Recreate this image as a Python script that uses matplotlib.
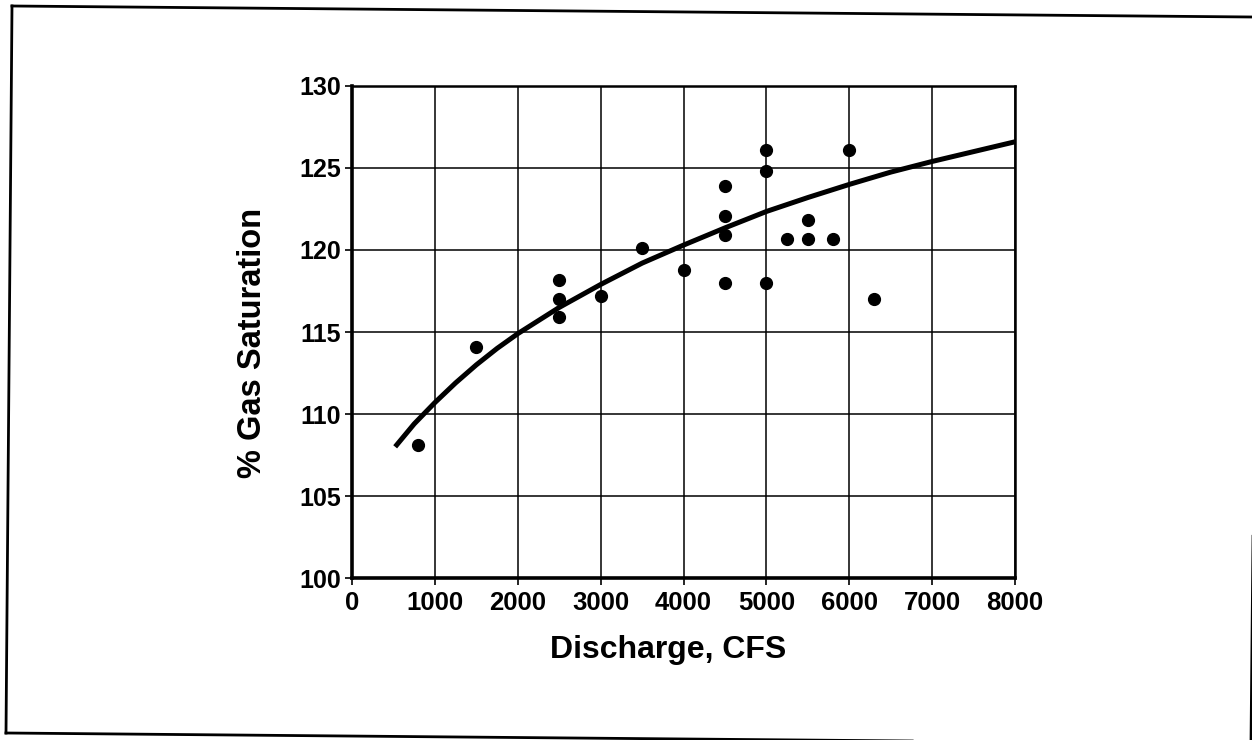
#% gas saturation vs discharge, scatter with fitted curve
import numpy as np
import matplotlib
matplotlib.use('Agg')
import matplotlib.pyplot as plt
from matplotlib.lines import Line2D

plt.rcParams['font.family'] = ['Liberation Sans', 'DejaVu Sans']
plt.rcParams['font.weight'] = 'bold'

# measured points
discharge = [800, 1500, 2500, 2500, 2500, 3000, 3500, 4000, 4500, 4500, 4500, 4500,
             5000, 5000, 5000, 5250, 5500, 5500, 5800, 6000, 6300]
gas_sat = [108.1, 114.1, 118.2, 117.0, 115.9, 117.2, 120.1, 118.8, 123.9, 122.1, 120.9, 118.0,
           126.1, 124.8, 118.0, 120.7, 121.8, 120.7, 120.7, 126.1, 117.0]

# fitted curve
curve_x = [520, 750, 1000, 1250, 1500, 1750, 2000, 2500, 3000, 3500, 4000, 4500,
           5000, 5500, 6000, 6500, 7000, 7500, 8000]
curve_y = [108.0, 109.4, 110.7, 111.9, 113.0, 114.0, 114.9, 116.5, 117.9, 119.2, 120.3, 121.35,
           122.35, 123.2, 124.0, 124.75, 125.4, 126.0, 126.6]

xticks = list(range(0, 8001, 1000))
yticks = list(range(100, 131, 5))

fig = plt.figure(figsize=(12.52, 7.40), dpi=100)
ax = fig.add_axes([0.2812, 0.2189, 0.5296, 0.6649])

ax.plot(curve_x, curve_y, color='black', lw=3.6, solid_capstyle='butt',
        solid_joinstyle='round', zorder=3)
ax.plot(discharge, gas_sat, 'o', color='black', ms=8.5, zorder=4)

ax.set_xlim(0, 8000)
ax.set_ylim(100, 130)
ax.set_xticks(xticks)
ax.set_yticks(yticks)
ax.grid(True, color='black', lw=1.1)
ax.set_axisbelow(True)
for side in ['left', 'bottom']:
    ax.spines[side].set_linewidth(2.6)
for side in ['top', 'right']:
    ax.spines[side].set_linewidth(1.8)
ax.tick_params(axis='both', direction='out', length=5, width=1.2, pad=3)
ax.tick_params(axis='x', labelsize=18.5, pad=4)
ax.tick_params(axis='y', labelsize=18)

ax.set_xlabel('Discharge, CFS', fontsize=23, fontweight='bold')
ax.set_ylabel('% Gas Saturation', fontsize=23.5, fontweight='bold')
ax.xaxis.set_label_coords(0.477, -0.115)
ax.yaxis.set_label_coords(-0.127, 0.478)

# scanned page frame (slightly skewed)
W, H = 1252.0, 740.0
def fl(x0, y0, x1, y1):
    fig.add_artist(Line2D([x0 / W, x1 / W], [1 - y0 / H, 1 - y1 / H],
                          transform=fig.transFigure, color='black', lw=2.0))
fl(12, 6, 1252, 17)
fl(12, 6, 6, 733)
fl(6, 733, 1252, 744)
fl(1258, 17, 1251, 744)

fig.savefig('out.png', dpi=100)
